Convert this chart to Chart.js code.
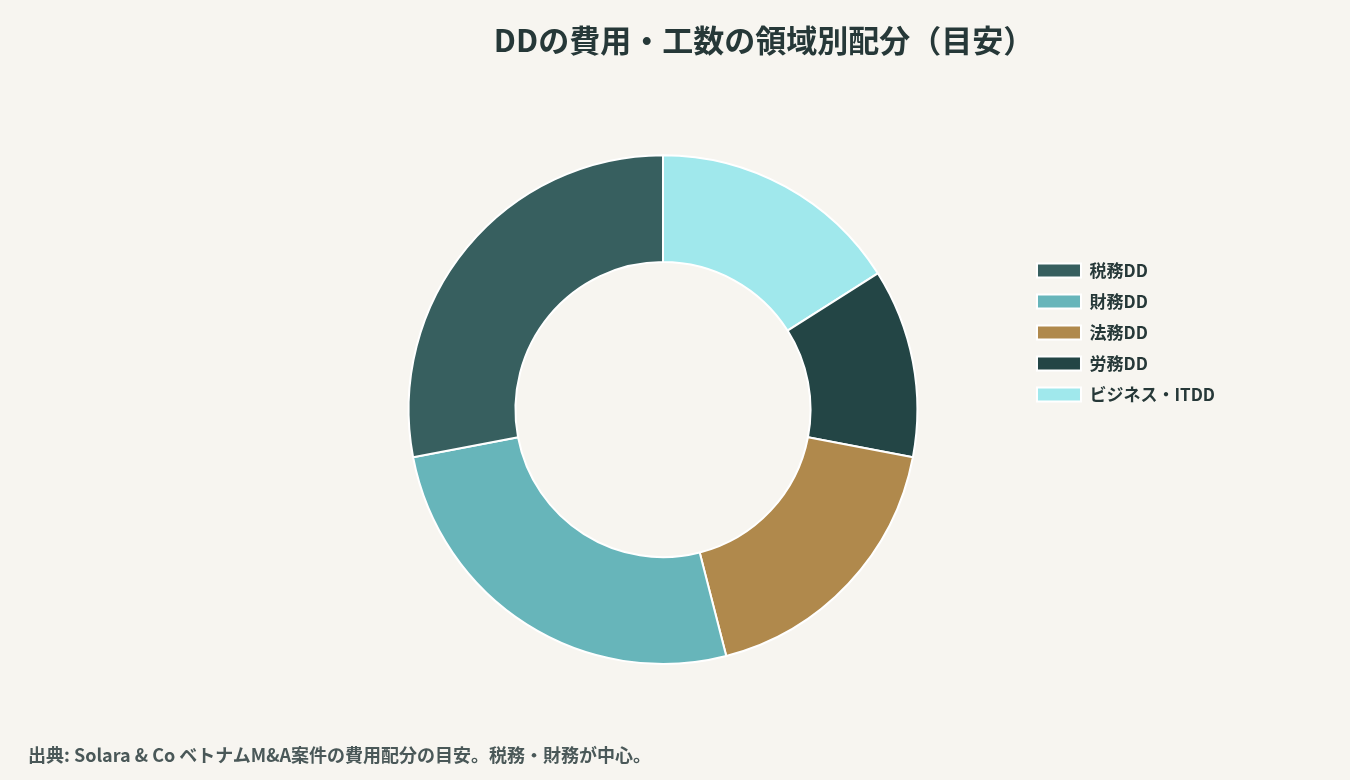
<!DOCTYPE html>
<html>
<head>
<meta charset="utf-8">
<script src="https://cdn.jsdelivr.net/npm/chart.js@4"></script>
<style>
  html, body { margin: 0; padding: 0; background: #f7f5f0; }
  #wrap { position: relative; width: 1350px; height: 780px; }
  #note { position: absolute; left: 28px; top: 741px; font-family: 'Noto Sans CJK JP', 'Noto Sans', sans-serif;
          font-size: 18px; font-weight: bold; color: #4a5858; white-space: nowrap; }
</style>
</head>
<body>
<div id="wrap">
  <canvas id="chart"></canvas>
  <div id="note">出典: Solara &amp; Co ベトナムM&amp;A案件の費用配分の目安。税務・財務が中心。</div>
</div>
<script>
// legend order; drawn counter-clockwise from the top, so data is fed reversed
const categories = ['税務DD', '財務DD', '法務DD', '労務DD', 'ビジネス・ITDD'];
const shares = [28, 26, 18, 12, 16];
const colors = ['#375f5f', '#67b5ba', '#b0894c', '#234545', '#a0e8ec'];

const font = "'Noto Sans CJK JP', 'Noto Sans', sans-serif";

new Chart(document.getElementById('chart'), {
  type: 'doughnut',
  data: {
    labels: categories.slice().reverse(),
    datasets: [{
      data: shares.slice().reverse(),
      backgroundColor: colors.slice().reverse(),
      borderColor: '#ffffff',
      borderWidth: 2
    }]
  },
  options: {
    responsive: true,
    maintainAspectRatio: false,
    animation: false,
    cutout: '58%',
    layout: { padding: { top: 0, bottom: 115, left: 303, right: 125 } },
    plugins: {
      title: {
        display: true,
        text: 'DDの費用・工数の領域別配分（目安）',
        color: '#263838',
        font: { family: font, size: 31, weight: 'bold' },
        padding: { top: 22, bottom: 95 }
      },
      legend: {
        position: 'right',
        reverse: true,
        labels: {
          color: '#263838',
          boxWidth: 44,
          boxHeight: 14,
          padding: 14,
          font: { family: font, size: 17, weight: 'bold' }
        }
      },
      tooltip: { enabled: false }
    }
  }
});
</script>
</body>
</html>
